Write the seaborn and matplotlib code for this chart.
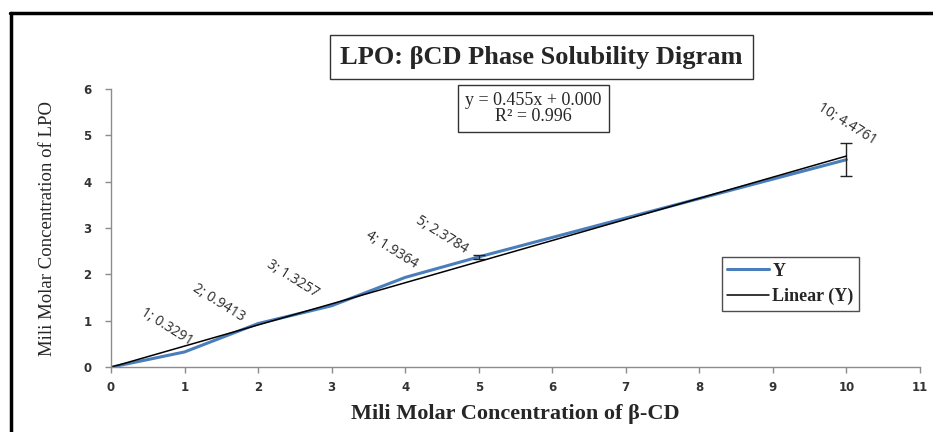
import numpy as np
import pandas as pd
import seaborn as sns
import matplotlib.pyplot as plt
from matplotlib.lines import Line2D

# Data
conc_bcd = [0, 1, 2, 3, 4, 5, 10]
conc_lpo = [0, 0.3291, 0.9413, 1.3257, 1.9364, 2.3784, 4.4761]
err_lpo = [0, 0, 0, 0, 0, 0.05, 0.35]
point_labels = ['', '1; 0.3291', '2; 0.9413', '3; 1.3257', '4; 1.9364', '5; 2.3784', '10; 4.4761']
label_dx = [0, -18, -39, -39, -14, -37, 1]
label_dy = [0, 25, 21, 27, 28, 22, 36]
label_rot = [0, -32, -32, -32, -32, -32, -32]

df = pd.DataFrame({'x': conc_bcd, 'y': conc_lpo})

sns.set_style('white')
plt.rcParams['font.family'] = ['DejaVu Sans']

fig = plt.figure(figsize=(9.33, 4.32), dpi=100)
ax = fig.add_axes([0.119, 0.150, 0.867, 0.644])

# trend line through origin
xv = np.array(conc_bcd, dtype=float)
yv = np.array(conc_lpo, dtype=float)
slope = (xv * yv).sum() / (xv * xv).sum()
ss_res = ((yv - slope * xv) ** 2).sum()
ss_tot = ((yv - yv.mean()) ** 2).sum()
r2 = 1 - ss_res / ss_tot
trend = pd.DataFrame({'x': [0, 10], 'y': [0, slope * 10]})

sns.lineplot(data=df, x='x', y='y', ax=ax, color='#4a7ebb', linewidth=2.2, label='Y')
eb = df.assign(e=err_lpo)
eb = eb[eb['e'] > 0]
ax.errorbar(eb['x'], eb['y'], yerr=eb['e'], fmt='none', ecolor='#222222',
            elinewidth=1, capsize=4.5, capthick=1)
sns.lineplot(data=trend, x='x', y='y', ax=ax, color='black', linewidth=1.1, label='Linear (Y)')

for x, y, t, dx, dy, r in zip(conc_bcd, conc_lpo, point_labels, label_dx, label_dy, label_rot):
    if t:
        ax.annotate(t, (x, y), xytext=(dx, dy), textcoords='offset pixels',
                    ha='center', va='center', rotation=r, rotation_mode='anchor',
                    fontsize=10, color='#2a2a2a', family='Open Sans')

ax.set_xlim(0, 11)
ax.set_ylim(0, 6)
ax.set_xticks(range(0, 12))
ax.set_yticks(range(0, 7))
sns.despine(ax=ax)
for s in ['left', 'bottom']:
    ax.spines[s].set_color('#8c8c8c')
    ax.spines[s].set_linewidth(1)
ax.tick_params(axis='both', direction='out', length=4, width=1, color='#8c8c8c',
               labelsize=8.5, labelcolor='#333333', bottom=True, left=True)
for lb in ax.get_xticklabels() + ax.get_yticklabels():
    lb.set_fontweight('bold')
ax.tick_params(axis='x', pad=6)
ax.tick_params(axis='y', pad=10)

ax.set_xlabel('Mili Molar Concentration of β-CD', family='Liberation Serif',
              fontsize=16, fontweight='bold', labelpad=7)
ax.set_ylabel('Mili Molar Concentration of LPO', family='Liberation Serif',
              fontsize=13.5, labelpad=20)

# equation box
ax.text(0.522, 0.93, f'y = {slope:.3f}x + 0.000\nR² = {r2:.3f}', transform=ax.transAxes,
        ha='center', va='center', family='Liberation Serif', fontsize=13, linespacing=0.95,
        bbox=dict(boxstyle='square,pad=0.4', facecolor='white', edgecolor='#333333', linewidth=1))

leg = ax.legend(loc='upper left', bbox_to_anchor=(0.755, 0.395), frameon=True,
                prop={'family': 'Liberation Serif', 'size': 13, 'weight': 'bold'},
                handlelength=2.3, borderpad=0.3, labelspacing=0.45, handletextpad=0.2,
                borderaxespad=0, fancybox=False)
leg.get_frame().set_edgecolor('#222222')
leg.get_frame().set_linewidth(1)

# title box
fig.text(0.5805, 0.868, 'LPO: βCD Phase Solubility Digram', ha='center', va='center',
         family='Liberation Serif', fontsize=19, fontweight='bold',
         bbox=dict(boxstyle='square,pad=0.38', facecolor='white', edgecolor='#333333', linewidth=1))

# outer frame (top and left edges)
fig.add_artist(Line2D([0.011, 1.0], [0.970, 0.970], transform=fig.transFigure, color='black', linewidth=2.5))
fig.add_artist(Line2D([0.012, 0.012], [0.0, 0.970], transform=fig.transFigure, color='black', linewidth=2.5))

fig.savefig('out.png', dpi=100)
